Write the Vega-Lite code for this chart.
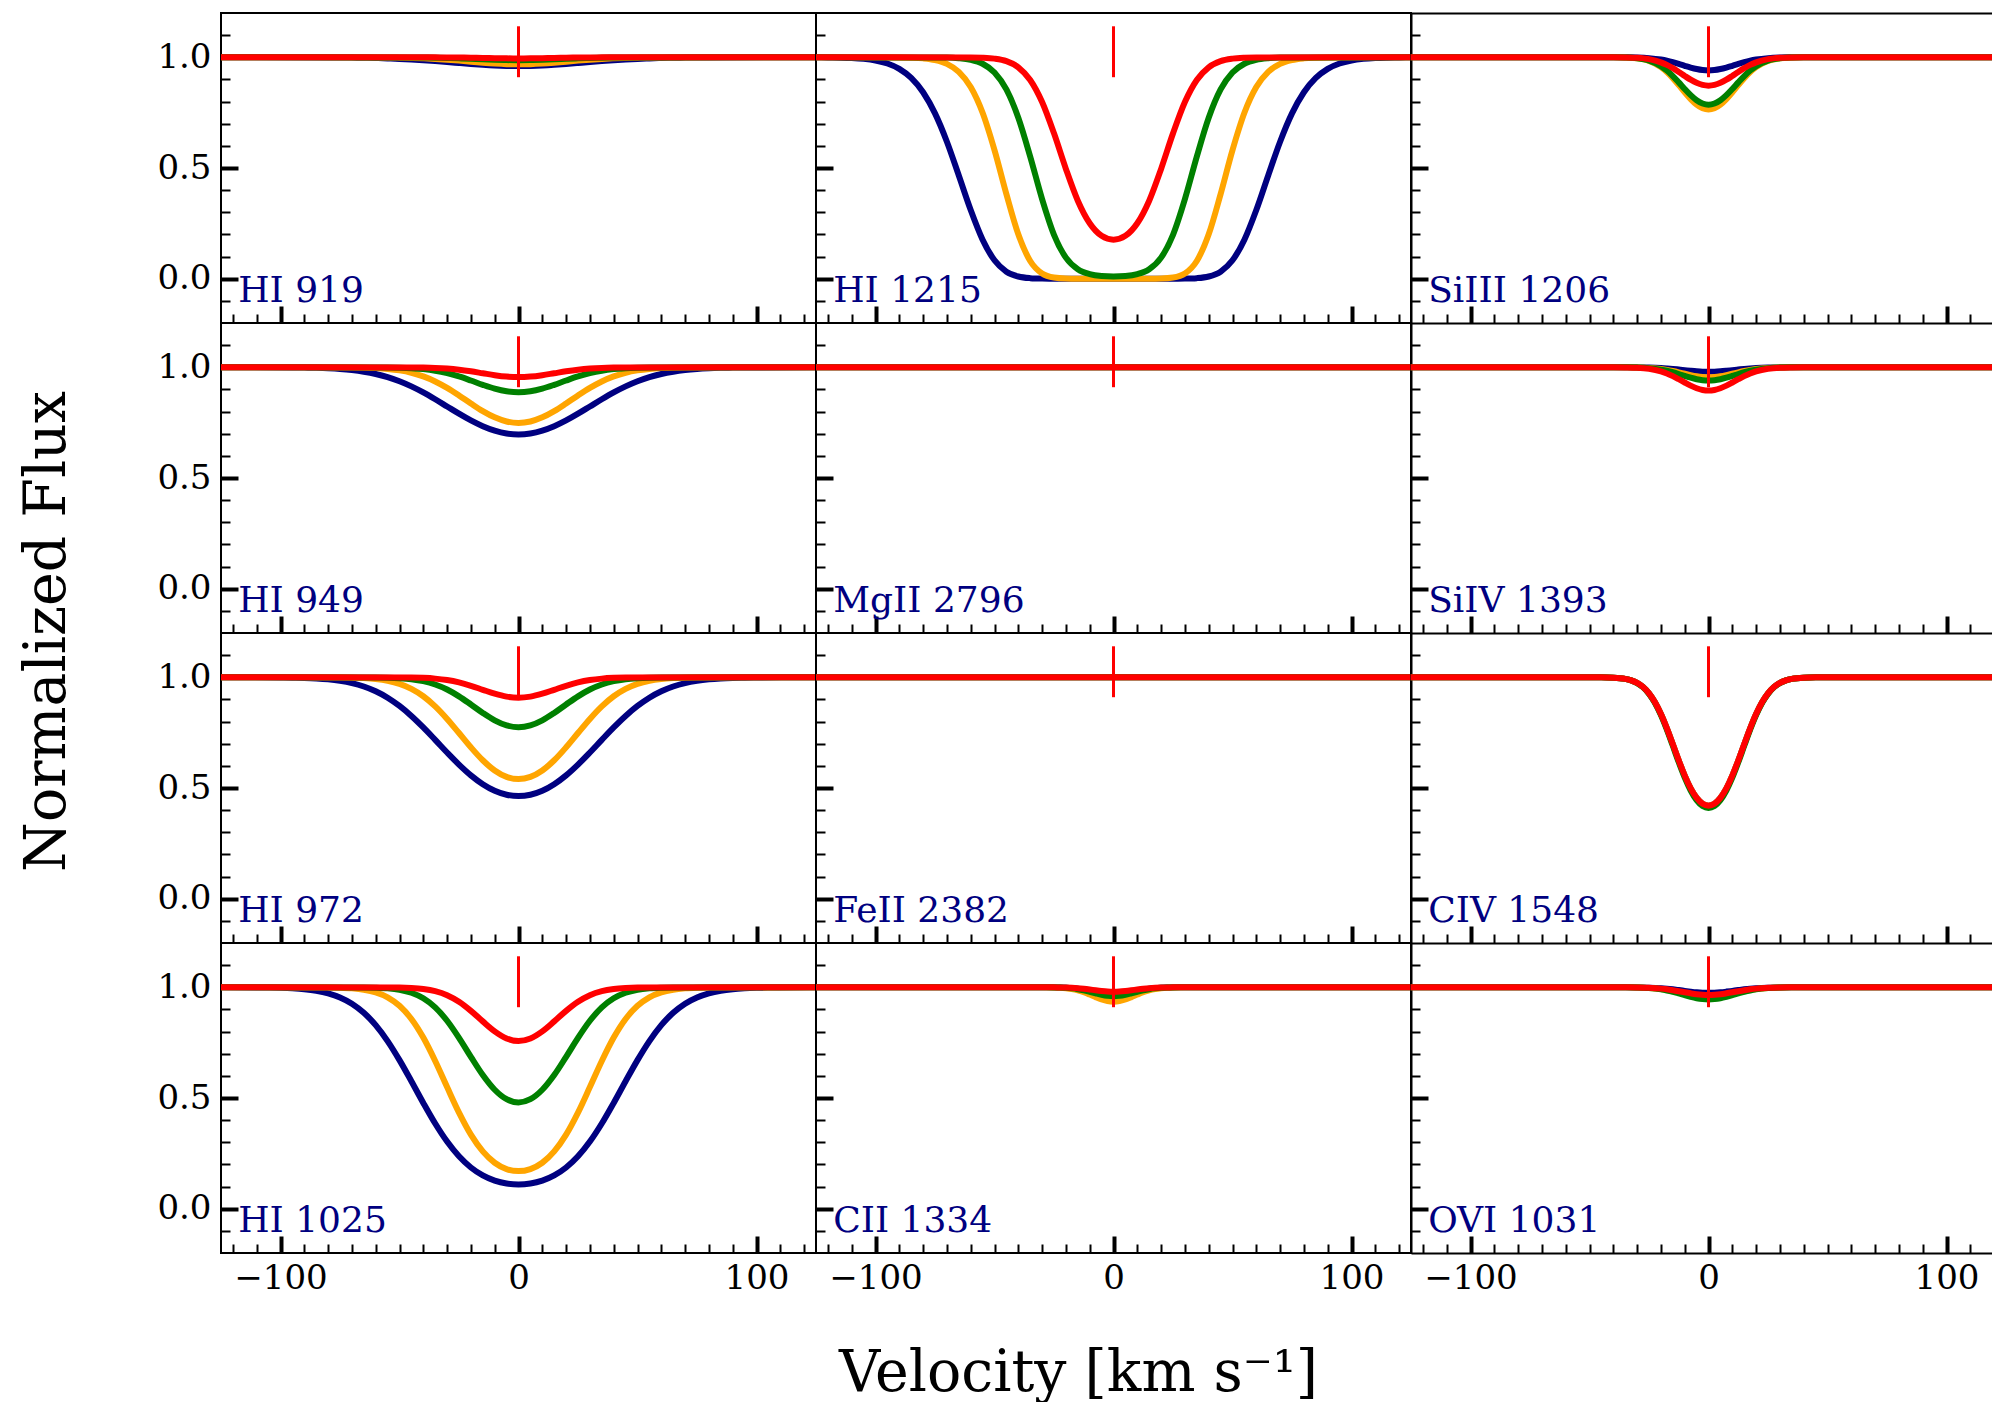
{
"$schema":"https://vega.github.io/schema/vega-lite/v6.json",
"background":"white",
"padding":{"left":17,"top":12,"right":0,"bottom":0},
"config":{
 "view":{"stroke":"black","strokeWidth":2},
 "line":{"strokeWidth":6,"interpolate":"monotone"},
 "axis":{"grid":false,"domain":false,"domainColor":"black","domainWidth":2,"tickColor":"black","labelFont":"DejaVu Serif","labelFontSize":34,"labelColor":"black","titleFont":"DejaVu Serif","titleFontWeight":"normal","titleColor":"black","titleFontSize":57,"zindex":1}
},
"datasets":{
"flat":[{"v":-125,"f":1},{"v":125,"f":1}],
"HI919_n":[{"v":-125,"f":1},{"v":-80,"f":0.9995},{"v":-75,"f":0.9991},{"v":-70,"f":0.9986},{"v":-65,"f":0.9978},{"v":-60,"f":0.9966},{"v":-55,"f":0.9949},{"v":-50,"f":0.9928},{"v":-45,"f":0.99},{"v":-40,"f":0.9866},{"v":-35,"f":0.9827},{"v":-30,"f":0.9785},{"v":-25,"f":0.9741},{"v":-20,"f":0.9698},{"v":-15,"f":0.9661},{"v":-10,"f":0.9631},{"v":-5,"f":0.9612},{"v":0,"f":0.9605},{"v":5,"f":0.9612},{"v":10,"f":0.9631},{"v":15,"f":0.9661},{"v":20,"f":0.9698},{"v":25,"f":0.9741},{"v":30,"f":0.9785},{"v":35,"f":0.9827},{"v":40,"f":0.9866},{"v":45,"f":0.99},{"v":50,"f":0.9928},{"v":55,"f":0.9949},{"v":60,"f":0.9966},{"v":65,"f":0.9978},{"v":70,"f":0.9986},{"v":75,"f":0.9991},{"v":80,"f":0.9995},{"v":125,"f":1}],
"HI919_o":[{"v":-125,"f":1},{"v":-55,"f":0.9992},{"v":-50,"f":0.9984},{"v":-45,"f":0.9972},{"v":-40,"f":0.9953},{"v":-35,"f":0.9927},{"v":-30,"f":0.9892},{"v":-25,"f":0.9849},{"v":-20,"f":0.9803},{"v":-15,"f":0.9757},{"v":-10,"f":0.9718},{"v":-5,"f":0.9691},{"v":0,"f":0.9682},{"v":5,"f":0.9691},{"v":10,"f":0.9718},{"v":15,"f":0.9757},{"v":20,"f":0.9803},{"v":25,"f":0.9849},{"v":30,"f":0.9892},{"v":35,"f":0.9927},{"v":40,"f":0.9953},{"v":45,"f":0.9972},{"v":50,"f":0.9984},{"v":55,"f":0.9992},{"v":125,"f":1}],
"HI919_g":[{"v":-125,"f":1},{"v":-45,"f":0.9995},{"v":-40,"f":0.9991},{"v":-35,"f":0.9983},{"v":-30,"f":0.997},{"v":-25,"f":0.9953},{"v":-20,"f":0.9932},{"v":-15,"f":0.9909},{"v":-10,"f":0.9887},{"v":-5,"f":0.9873},{"v":0,"f":0.9867},{"v":5,"f":0.9873},{"v":10,"f":0.9887},{"v":15,"f":0.9909},{"v":20,"f":0.9932},{"v":25,"f":0.9953},{"v":30,"f":0.997},{"v":35,"f":0.9983},{"v":40,"f":0.9991},{"v":45,"f":0.9995},{"v":125,"f":1}],
"HI919_r":[{"v":-125,"f":1},{"v":-35,"f":0.9997},{"v":-30,"f":0.9993},{"v":-25,"f":0.9988},{"v":-20,"f":0.998},{"v":-15,"f":0.997},{"v":-10,"f":0.996},{"v":-5,"f":0.9952},{"v":0,"f":0.9949},{"v":5,"f":0.9952},{"v":10,"f":0.996},{"v":15,"f":0.997},{"v":20,"f":0.998},{"v":25,"f":0.9988},{"v":30,"f":0.9993},{"v":35,"f":0.9997},{"v":125,"f":1}],
"HI1215_n":[{"v":-125,"f":1},{"v":-120,"f":0.9993},{"v":-115,"f":0.9984},{"v":-110,"f":0.9966},{"v":-105,"f":0.9928},{"v":-100,"f":0.9855},{"v":-95,"f":0.972},{"v":-90,"f":0.9479},{"v":-85,"f":0.9069},{"v":-80,"f":0.842},{"v":-75,"f":0.7466},{"v":-70,"f":0.6187},{"v":-65,"f":0.4662},{"v":-60,"f":0.3103},{"v":-55,"f":0.1763},{"v":-50,"f":0.0831},{"v":-45,"f":0.0319},{"v":-40,"f":0.01},{"v":-35,"f":0.0026},{"v":-30,"f":0.0006},{"v":-25,"f":0.0001},{"v":-20,"f":0},{"v":-10,"f":0},{"v":0,"f":0},{"v":10,"f":0},{"v":20,"f":0},{"v":25,"f":0.0001},{"v":30,"f":0.0006},{"v":35,"f":0.0026},{"v":40,"f":0.01},{"v":45,"f":0.0319},{"v":50,"f":0.0831},{"v":55,"f":0.1763},{"v":60,"f":0.3103},{"v":65,"f":0.4662},{"v":70,"f":0.6187},{"v":75,"f":0.7466},{"v":80,"f":0.842},{"v":85,"f":0.9069},{"v":90,"f":0.9479},{"v":95,"f":0.972},{"v":100,"f":0.9855},{"v":105,"f":0.9928},{"v":110,"f":0.9966},{"v":115,"f":0.9984},{"v":120,"f":0.9993},{"v":125,"f":1}],
"HI1215_o":[{"v":-125,"f":1},{"v":-90,"f":0.9994},{"v":-85,"f":0.9982},{"v":-80,"f":0.9951},{"v":-75,"f":0.9876},{"v":-70,"f":0.9704},{"v":-65,"f":0.9343},{"v":-60,"f":0.8658},{"v":-55,"f":0.7496},{"v":-50,"f":0.581},{"v":-45,"f":0.3821},{"v":-40,"f":0.2005},{"v":-35,"f":0.0801},{"v":-30,"f":0.0238},{"v":-25,"f":0.0055},{"v":-20,"f":0.0011},{"v":-15,"f":0.0002},{"v":-10,"f":0.0001},{"v":0,"f":0},{"v":10,"f":0.0001},{"v":15,"f":0.0002},{"v":20,"f":0.0011},{"v":25,"f":0.0055},{"v":30,"f":0.0238},{"v":35,"f":0.0801},{"v":40,"f":0.2005},{"v":45,"f":0.3821},{"v":50,"f":0.581},{"v":55,"f":0.7496},{"v":60,"f":0.8658},{"v":65,"f":0.9343},{"v":70,"f":0.9704},{"v":75,"f":0.9876},{"v":80,"f":0.9951},{"v":85,"f":0.9982},{"v":90,"f":0.9994},{"v":125,"f":1}],
"HI1215_g":[{"v":-125,"f":1},{"v":-70,"f":0.9987},{"v":-65,"f":0.996},{"v":-60,"f":0.9887},{"v":-55,"f":0.9708},{"v":-50,"f":0.9314},{"v":-45,"f":0.8547},{"v":-40,"f":0.727},{"v":-35,"f":0.5516},{"v":-30,"f":0.3598},{"v":-25,"f":0.1985},{"v":-20,"f":0.0952},{"v":-15,"f":0.0429},{"v":-10,"f":0.0207},{"v":-5,"f":0.0124},{"v":0,"f":0.0103},{"v":5,"f":0.0124},{"v":10,"f":0.0207},{"v":15,"f":0.0429},{"v":20,"f":0.0952},{"v":25,"f":0.1985},{"v":30,"f":0.3598},{"v":35,"f":0.5516},{"v":40,"f":0.727},{"v":45,"f":0.8547},{"v":50,"f":0.9314},{"v":55,"f":0.9708},{"v":60,"f":0.9887},{"v":65,"f":0.996},{"v":70,"f":0.9987},{"v":125,"f":1}],
"HI1215_r":[{"v":-125,"f":1},{"v":-60,"f":0.9995},{"v":-55,"f":0.9982},{"v":-50,"f":0.994},{"v":-45,"f":0.9826},{"v":-40,"f":0.9549},{"v":-35,"f":0.8976},{"v":-30,"f":0.798},{"v":-25,"f":0.6564},{"v":-20,"f":0.496},{"v":-15,"f":0.3524},{"v":-10,"f":0.2504},{"v":-5,"f":0.1937},{"v":0,"f":0.1761},{"v":5,"f":0.1937},{"v":10,"f":0.2504},{"v":15,"f":0.3524},{"v":20,"f":0.496},{"v":25,"f":0.6564},{"v":30,"f":0.798},{"v":35,"f":0.8976},{"v":40,"f":0.9549},{"v":45,"f":0.9826},{"v":50,"f":0.994},{"v":55,"f":0.9982},{"v":60,"f":0.9995},{"v":125,"f":1}],
"SiIII1206_n":[{"v":-125,"f":1},{"v":-40,"f":1},{"v":-35,"f":0.9997},{"v":-30,"f":0.9989},{"v":-25,"f":0.9962},{"v":-20,"f":0.9897},{"v":-17.5,"f":0.9845},{"v":-15,"f":0.9778},{"v":-12.5,"f":0.97},{"v":-10,"f":0.9616},{"v":-7.5,"f":0.9536},{"v":-5,"f":0.9469},{"v":-2.5,"f":0.9424},{"v":0,"f":0.9408},{"v":2.5,"f":0.9424},{"v":5,"f":0.9469},{"v":7.5,"f":0.9536},{"v":10,"f":0.9616},{"v":12.5,"f":0.97},{"v":15,"f":0.9778},{"v":17.5,"f":0.9845},{"v":20,"f":0.9897},{"v":25,"f":0.9962},{"v":30,"f":0.9989},{"v":35,"f":0.9997},{"v":40,"f":1},{"v":125,"f":1}],
"SiIII1206_o":[{"v":-125,"f":1},{"v":-40,"f":1},{"v":-35,"f":0.9988},{"v":-30,"f":0.9951},{"v":-25,"f":0.9834},{"v":-20,"f":0.9555},{"v":-17.5,"f":0.9333},{"v":-15,"f":0.9058},{"v":-12.5,"f":0.8743},{"v":-10,"f":0.8416},{"v":-7.5,"f":0.811},{"v":-5,"f":0.7861},{"v":-2.5,"f":0.7698},{"v":0,"f":0.7641},{"v":2.5,"f":0.7698},{"v":5,"f":0.7861},{"v":7.5,"f":0.811},{"v":10,"f":0.8416},{"v":12.5,"f":0.8743},{"v":15,"f":0.9058},{"v":17.5,"f":0.9333},{"v":20,"f":0.9555},{"v":25,"f":0.9834},{"v":30,"f":0.9951},{"v":35,"f":0.9988},{"v":40,"f":1},{"v":125,"f":1}],
"SiIII1206_g":[{"v":-125,"f":1},{"v":-40,"f":1},{"v":-35,"f":0.999},{"v":-30,"f":0.9956},{"v":-25,"f":0.9851},{"v":-20,"f":0.9601},{"v":-17.5,"f":0.9401},{"v":-15,"f":0.9152},{"v":-12.5,"f":0.8866},{"v":-10,"f":0.8568},{"v":-7.5,"f":0.8289},{"v":-5,"f":0.806},{"v":-2.5,"f":0.7911},{"v":0,"f":0.7859},{"v":2.5,"f":0.7911},{"v":5,"f":0.806},{"v":7.5,"f":0.8289},{"v":10,"f":0.8568},{"v":12.5,"f":0.8866},{"v":15,"f":0.9152},{"v":17.5,"f":0.9401},{"v":20,"f":0.9601},{"v":25,"f":0.9851},{"v":30,"f":0.9956},{"v":35,"f":0.999},{"v":40,"f":1},{"v":125,"f":1}],
"SiIII1206_r":[{"v":-125,"f":1},{"v":-40,"f":1},{"v":-35,"f":0.9994},{"v":-30,"f":0.9975},{"v":-25,"f":0.9915},{"v":-20,"f":0.9771},{"v":-17.5,"f":0.9655},{"v":-15,"f":0.9508},{"v":-12.5,"f":0.9339},{"v":-10,"f":0.9159},{"v":-7.5,"f":0.8988},{"v":-5,"f":0.8846},{"v":-2.5,"f":0.8753},{"v":0,"f":0.872},{"v":2.5,"f":0.8753},{"v":5,"f":0.8846},{"v":7.5,"f":0.8988},{"v":10,"f":0.9159},{"v":12.5,"f":0.9339},{"v":15,"f":0.9508},{"v":17.5,"f":0.9655},{"v":20,"f":0.9771},{"v":25,"f":0.9915},{"v":30,"f":0.9975},{"v":35,"f":0.9994},{"v":40,"f":1},{"v":125,"f":1}],
"HI949_n":[{"v":-125,"f":1},{"v":-95,"f":0.9993},{"v":-90,"f":0.9986},{"v":-85,"f":0.9974},{"v":-80,"f":0.9955},{"v":-75,"f":0.9924},{"v":-70,"f":0.9875},{"v":-65,"f":0.9802},{"v":-60,"f":0.9699},{"v":-55,"f":0.9556},{"v":-50,"f":0.937},{"v":-45,"f":0.9138},{"v":-40,"f":0.8864},{"v":-35,"f":0.8556},{"v":-30,"f":0.823},{"v":-25,"f":0.7904},{"v":-20,"f":0.76},{"v":-15,"f":0.7339},{"v":-10,"f":0.7139},{"v":-5,"f":0.7012},{"v":0,"f":0.697},{"v":5,"f":0.7012},{"v":10,"f":0.7139},{"v":15,"f":0.7339},{"v":20,"f":0.76},{"v":25,"f":0.7904},{"v":30,"f":0.823},{"v":35,"f":0.8556},{"v":40,"f":0.8864},{"v":45,"f":0.9138},{"v":50,"f":0.937},{"v":55,"f":0.9556},{"v":60,"f":0.9699},{"v":65,"f":0.9802},{"v":70,"f":0.9875},{"v":75,"f":0.9924},{"v":80,"f":0.9955},{"v":85,"f":0.9974},{"v":90,"f":0.9986},{"v":95,"f":0.9993},{"v":125,"f":1}],
"HI949_o":[{"v":-125,"f":1},{"v":-70,"f":0.9992},{"v":-65,"f":0.9982},{"v":-60,"f":0.9962},{"v":-55,"f":0.9925},{"v":-50,"f":0.9859},{"v":-45,"f":0.9751},{"v":-40,"f":0.9588},{"v":-35,"f":0.9361},{"v":-30,"f":0.9068},{"v":-25,"f":0.8727},{"v":-20,"f":0.8364},{"v":-15,"f":0.802},{"v":-10,"f":0.7738},{"v":-5,"f":0.7552},{"v":0,"f":0.7488},{"v":5,"f":0.7552},{"v":10,"f":0.7738},{"v":15,"f":0.802},{"v":20,"f":0.8364},{"v":25,"f":0.8727},{"v":30,"f":0.9068},{"v":35,"f":0.9361},{"v":40,"f":0.9588},{"v":45,"f":0.9751},{"v":50,"f":0.9859},{"v":55,"f":0.9925},{"v":60,"f":0.9962},{"v":65,"f":0.9982},{"v":70,"f":0.9992},{"v":125,"f":1}],
"HI949_g":[{"v":-125,"f":1},{"v":-55,"f":0.9992},{"v":-50,"f":0.9981},{"v":-45,"f":0.9959},{"v":-40,"f":0.9917},{"v":-35,"f":0.9846},{"v":-30,"f":0.9736},{"v":-25,"f":0.9586},{"v":-20,"f":0.9403},{"v":-15,"f":0.9209},{"v":-10,"f":0.9036},{"v":-5,"f":0.8915},{"v":0,"f":0.8871},{"v":5,"f":0.8915},{"v":10,"f":0.9036},{"v":15,"f":0.9209},{"v":20,"f":0.9403},{"v":25,"f":0.9586},{"v":30,"f":0.9736},{"v":35,"f":0.9846},{"v":40,"f":0.9917},{"v":45,"f":0.9959},{"v":50,"f":0.9981},{"v":55,"f":0.9992},{"v":125,"f":1}],
"HI949_r":[{"v":-125,"f":1},{"v":-45,"f":0.9995},{"v":-40,"f":0.9988},{"v":-35,"f":0.9972},{"v":-30,"f":0.9941},{"v":-25,"f":0.989},{"v":-20,"f":0.9818},{"v":-15,"f":0.9731},{"v":-10,"f":0.9644},{"v":-5,"f":0.958},{"v":0,"f":0.9556},{"v":5,"f":0.958},{"v":10,"f":0.9644},{"v":15,"f":0.9731},{"v":20,"f":0.9818},{"v":25,"f":0.989},{"v":30,"f":0.9941},{"v":35,"f":0.9972},{"v":40,"f":0.9988},{"v":45,"f":0.9995},{"v":125,"f":1}],
"SiIV1393_n":[{"v":-125,"f":1},{"v":-35,"f":1},{"v":-30,"f":0.9996},{"v":-25,"f":0.9987},{"v":-20,"f":0.9966},{"v":-17.5,"f":0.9948},{"v":-15,"f":0.9926},{"v":-12.5,"f":0.9899},{"v":-10,"f":0.9871},{"v":-7.5,"f":0.9843},{"v":-5,"f":0.9819},{"v":-2.5,"f":0.9804},{"v":0,"f":0.98},{"v":2.5,"f":0.9804},{"v":5,"f":0.9819},{"v":7.5,"f":0.9843},{"v":10,"f":0.9871},{"v":12.5,"f":0.9899},{"v":15,"f":0.9926},{"v":17.5,"f":0.9948},{"v":20,"f":0.9966},{"v":25,"f":0.9987},{"v":30,"f":0.9996},{"v":35,"f":1},{"v":125,"f":1}],
"SiIV1393_o":[{"v":-125,"f":1},{"v":-40,"f":1},{"v":-35,"f":0.9998},{"v":-30,"f":0.9992},{"v":-25,"f":0.9971},{"v":-20,"f":0.9923},{"v":-17.5,"f":0.9883},{"v":-15,"f":0.9832},{"v":-12.5,"f":0.9773},{"v":-10,"f":0.9709},{"v":-7.5,"f":0.9648},{"v":-5,"f":0.9597},{"v":-2.5,"f":0.9563},{"v":0,"f":0.955},{"v":2.5,"f":0.9563},{"v":5,"f":0.9597},{"v":7.5,"f":0.9648},{"v":10,"f":0.9709},{"v":12.5,"f":0.9773},{"v":15,"f":0.9832},{"v":17.5,"f":0.9883},{"v":20,"f":0.9923},{"v":25,"f":0.9971},{"v":30,"f":0.9992},{"v":35,"f":0.9998},{"v":40,"f":1},{"v":125,"f":1}],
"SiIV1393_g":[{"v":-125,"f":1},{"v":-40,"f":1},{"v":-35,"f":0.9997},{"v":-30,"f":0.9989},{"v":-25,"f":0.9962},{"v":-20,"f":0.9896},{"v":-17.5,"f":0.9843},{"v":-15,"f":0.9775},{"v":-12.5,"f":0.9696},{"v":-10,"f":0.9611},{"v":-7.5,"f":0.9529},{"v":-5,"f":0.9461},{"v":-2.5,"f":0.9416},{"v":0,"f":0.94},{"v":2.5,"f":0.9416},{"v":5,"f":0.9461},{"v":7.5,"f":0.9529},{"v":10,"f":0.9611},{"v":12.5,"f":0.9696},{"v":15,"f":0.9775},{"v":17.5,"f":0.9843},{"v":20,"f":0.9896},{"v":25,"f":0.9962},{"v":30,"f":0.9989},{"v":35,"f":0.9997},{"v":40,"f":1},{"v":125,"f":1}],
"SiIV1393_r":[{"v":-125,"f":1},{"v":-40,"f":1},{"v":-35,"f":0.9995},{"v":-30,"f":0.998},{"v":-25,"f":0.9931},{"v":-20,"f":0.9814},{"v":-17.5,"f":0.9719},{"v":-15,"f":0.96},{"v":-12.5,"f":0.9461},{"v":-10,"f":0.9313},{"v":-7.5,"f":0.9172},{"v":-5,"f":0.9055},{"v":-2.5,"f":0.8977},{"v":0,"f":0.8949},{"v":2.5,"f":0.8977},{"v":5,"f":0.9055},{"v":7.5,"f":0.9172},{"v":10,"f":0.9313},{"v":12.5,"f":0.9461},{"v":15,"f":0.96},{"v":17.5,"f":0.9719},{"v":20,"f":0.9814},{"v":25,"f":0.9931},{"v":30,"f":0.998},{"v":35,"f":0.9995},{"v":40,"f":1},{"v":125,"f":1}],
"HI972_n":[{"v":-125,"f":1},{"v":-100,"f":0.9992},{"v":-95,"f":0.9984},{"v":-90,"f":0.997},{"v":-85,"f":0.9946},{"v":-80,"f":0.9905},{"v":-75,"f":0.9838},{"v":-70,"f":0.9736},{"v":-65,"f":0.9584},{"v":-60,"f":0.9369},{"v":-55,"f":0.9078},{"v":-50,"f":0.8705},{"v":-45,"f":0.8253},{"v":-40,"f":0.7735},{"v":-35,"f":0.7174},{"v":-30,"f":0.6604},{"v":-25,"f":0.6059},{"v":-20,"f":0.5573},{"v":-15,"f":0.5173},{"v":-10,"f":0.4877},{"v":-5,"f":0.4696},{"v":0,"f":0.4635},{"v":5,"f":0.4696},{"v":10,"f":0.4877},{"v":15,"f":0.5173},{"v":20,"f":0.5573},{"v":25,"f":0.6059},{"v":30,"f":0.6604},{"v":35,"f":0.7174},{"v":40,"f":0.7735},{"v":45,"f":0.8253},{"v":50,"f":0.8705},{"v":55,"f":0.9078},{"v":60,"f":0.9369},{"v":65,"f":0.9584},{"v":70,"f":0.9736},{"v":75,"f":0.9838},{"v":80,"f":0.9905},{"v":85,"f":0.9946},{"v":90,"f":0.997},{"v":95,"f":0.9984},{"v":100,"f":0.9992},{"v":125,"f":1}],
"HI972_o":[{"v":-125,"f":1},{"v":-75,"f":0.9993},{"v":-70,"f":0.9983},{"v":-65,"f":0.9962},{"v":-60,"f":0.992},{"v":-55,"f":0.9841},{"v":-50,"f":0.9702},{"v":-45,"f":0.9478},{"v":-40,"f":0.9144},{"v":-35,"f":0.8688},{"v":-30,"f":0.8121},{"v":-25,"f":0.7483},{"v":-20,"f":0.6837},{"v":-15,"f":0.6252},{"v":-10,"f":0.5793},{"v":-5,"f":0.5501},{"v":0,"f":0.5401},{"v":5,"f":0.5501},{"v":10,"f":0.5793},{"v":15,"f":0.6252},{"v":20,"f":0.6837},{"v":25,"f":0.7483},{"v":30,"f":0.8121},{"v":35,"f":0.8688},{"v":40,"f":0.9144},{"v":45,"f":0.9478},{"v":50,"f":0.9702},{"v":55,"f":0.9841},{"v":60,"f":0.992},{"v":65,"f":0.9962},{"v":70,"f":0.9983},{"v":75,"f":0.9993},{"v":125,"f":1}],
"HI972_g":[{"v":-125,"f":1},{"v":-60,"f":0.9994},{"v":-55,"f":0.9984},{"v":-50,"f":0.996},{"v":-45,"f":0.9913},{"v":-40,"f":0.9824},{"v":-35,"f":0.9674},{"v":-30,"f":0.9447},{"v":-25,"f":0.9139},{"v":-20,"f":0.8772},{"v":-15,"f":0.8391},{"v":-10,"f":0.8058},{"v":-5,"f":0.7829},{"v":0,"f":0.7748},{"v":5,"f":0.7829},{"v":10,"f":0.8058},{"v":15,"f":0.8391},{"v":20,"f":0.8772},{"v":25,"f":0.9139},{"v":30,"f":0.9447},{"v":35,"f":0.9674},{"v":40,"f":0.9824},{"v":45,"f":0.9913},{"v":50,"f":0.996},{"v":55,"f":0.9984},{"v":60,"f":0.9994},{"v":125,"f":1}],
"HI972_r":[{"v":-125,"f":1},{"v":-45,"f":0.999},{"v":-40,"f":0.9974},{"v":-35,"f":0.994},{"v":-30,"f":0.9875},{"v":-25,"f":0.9768},{"v":-20,"f":0.9617},{"v":-15,"f":0.9435},{"v":-10,"f":0.9257},{"v":-5,"f":0.9126},{"v":0,"f":0.9077},{"v":5,"f":0.9126},{"v":10,"f":0.9257},{"v":15,"f":0.9435},{"v":20,"f":0.9617},{"v":25,"f":0.9768},{"v":30,"f":0.9875},{"v":35,"f":0.994},{"v":40,"f":0.9974},{"v":45,"f":0.999},{"v":125,"f":1}],
"CIV1548_r":[{"v":-125,"f":1},{"v":-45,"f":0.9997},{"v":-40,"f":0.9983},{"v":-35,"f":0.9928},{"v":-32.5,"f":0.9861},{"v":-30,"f":0.9745},{"v":-27.5,"f":0.9558},{"v":-25,"f":0.9273},{"v":-22.5,"f":0.8868},{"v":-20,"f":0.8337},{"v":-17.5,"f":0.7692},{"v":-15,"f":0.6974},{"v":-12.5,"f":0.6241},{"v":-10,"f":0.5558},{"v":-7.5,"f":0.4982},{"v":-5,"f":0.4551},{"v":-2.5,"f":0.4287},{"v":0,"f":0.4198},{"v":2.5,"f":0.4287},{"v":5,"f":0.4551},{"v":7.5,"f":0.4982},{"v":10,"f":0.5558},{"v":12.5,"f":0.6241},{"v":15,"f":0.6974},{"v":17.5,"f":0.7692},{"v":20,"f":0.8337},{"v":22.5,"f":0.8868},{"v":25,"f":0.9273},{"v":27.5,"f":0.9558},{"v":30,"f":0.9745},{"v":32.5,"f":0.9861},{"v":35,"f":0.9928},{"v":40,"f":0.9983},{"v":45,"f":0.9997},{"v":125,"f":1}],
"CIV1548_g":[{"v":-125,"f":1},{"v":-45,"f":0.9997},{"v":-40,"f":0.9983},{"v":-35,"f":0.9926},{"v":-32.5,"f":0.9857},{"v":-30,"f":0.9738},{"v":-27.5,"f":0.9546},{"v":-25,"f":0.9253},{"v":-22.5,"f":0.8838},{"v":-20,"f":0.8294},{"v":-17.5,"f":0.7636},{"v":-15,"f":0.6904},{"v":-12.5,"f":0.616},{"v":-10,"f":0.5468},{"v":-7.5,"f":0.4887},{"v":-5,"f":0.4453},{"v":-2.5,"f":0.4188},{"v":0,"f":0.4098},{"v":2.5,"f":0.4188},{"v":5,"f":0.4453},{"v":7.5,"f":0.4887},{"v":10,"f":0.5468},{"v":12.5,"f":0.616},{"v":15,"f":0.6904},{"v":17.5,"f":0.7636},{"v":20,"f":0.8294},{"v":22.5,"f":0.8838},{"v":25,"f":0.9253},{"v":27.5,"f":0.9546},{"v":30,"f":0.9738},{"v":32.5,"f":0.9857},{"v":35,"f":0.9926},{"v":40,"f":0.9983},{"v":45,"f":0.9997},{"v":125,"f":1}],
"HI1025_n":[{"v":-125,"f":1},{"v":-110,"f":0.9994},{"v":-105,"f":0.9988},{"v":-100,"f":0.9977},{"v":-95,"f":0.9955},{"v":-90,"f":0.9915},{"v":-85,"f":0.9845},{"v":-80,"f":0.9728},{"v":-75,"f":0.9542},{"v":-70,"f":0.9259},{"v":-65,"f":0.8849},{"v":-60,"f":0.829},{"v":-55,"f":0.7571},{"v":-50,"f":0.6711},{"v":-45,"f":0.5757},{"v":-40,"f":0.4777},{"v":-35,"f":0.3847},{"v":-30,"f":0.3031},{"v":-25,"f":0.2366},{"v":-20,"f":0.186},{"v":-15,"f":0.1502},{"v":-10,"f":0.1267},{"v":-5,"f":0.1137},{"v":0,"f":0.1095},{"v":5,"f":0.1137},{"v":10,"f":0.1267},{"v":15,"f":0.1502},{"v":20,"f":0.186},{"v":25,"f":0.2366},{"v":30,"f":0.3031},{"v":35,"f":0.3847},{"v":40,"f":0.4777},{"v":45,"f":0.5757},{"v":50,"f":0.6711},{"v":55,"f":0.7571},{"v":60,"f":0.829},{"v":65,"f":0.8849},{"v":70,"f":0.9259},{"v":75,"f":0.9542},{"v":80,"f":0.9728},{"v":85,"f":0.9845},{"v":90,"f":0.9915},{"v":95,"f":0.9955},{"v":100,"f":0.9977},{"v":105,"f":0.9988},{"v":110,"f":0.9994},{"v":125,"f":1}],
"HI1025_o":[{"v":-125,"f":1},{"v":-80,"f":0.9992},{"v":-75,"f":0.998},{"v":-70,"f":0.9952},{"v":-65,"f":0.9892},{"v":-60,"f":0.9772},{"v":-55,"f":0.9549},{"v":-50,"f":0.9166},{"v":-45,"f":0.857},{"v":-40,"f":0.7729},{"v":-35,"f":0.6671},{"v":-30,"f":0.5493},{"v":-25,"f":0.434},{"v":-20,"f":0.3346},{"v":-15,"f":0.2588},{"v":-10,"f":0.2077},{"v":-5,"f":0.179},{"v":0,"f":0.1698},{"v":5,"f":0.179},{"v":10,"f":0.2077},{"v":15,"f":0.2588},{"v":20,"f":0.3346},{"v":25,"f":0.434},{"v":30,"f":0.5493},{"v":35,"f":0.6671},{"v":40,"f":0.7729},{"v":45,"f":0.857},{"v":50,"f":0.9166},{"v":55,"f":0.9549},{"v":60,"f":0.9772},{"v":65,"f":0.9892},{"v":70,"f":0.9952},{"v":75,"f":0.998},{"v":80,"f":0.9992},{"v":125,"f":1}],
"HI1025_g":[{"v":-125,"f":1},{"v":-65,"f":0.9994},{"v":-60,"f":0.9982},{"v":-55,"f":0.9953},{"v":-50,"f":0.9887},{"v":-45,"f":0.9752},{"v":-40,"f":0.9502},{"v":-35,"f":0.9091},{"v":-30,"f":0.8489},{"v":-25,"f":0.7717},{"v":-20,"f":0.6859},{"v":-15,"f":0.6037},{"v":-10,"f":0.5373},{"v":-5,"f":0.4946},{"v":0,"f":0.48},{"v":5,"f":0.4946},{"v":10,"f":0.5373},{"v":15,"f":0.6037},{"v":20,"f":0.6859},{"v":25,"f":0.7717},{"v":30,"f":0.8489},{"v":35,"f":0.9091},{"v":40,"f":0.9502},{"v":45,"f":0.9752},{"v":50,"f":0.9887},{"v":55,"f":0.9953},{"v":60,"f":0.9982},{"v":65,"f":0.9994},{"v":125,"f":1}],
"HI1025_r":[{"v":-125,"f":1},{"v":-50,"f":0.999},{"v":-45,"f":0.9972},{"v":-40,"f":0.9926},{"v":-35,"f":0.9828},{"v":-30,"f":0.9645},{"v":-25,"f":0.9347},{"v":-20,"f":0.8937},{"v":-15,"f":0.846},{"v":-10,"f":0.801},{"v":-5,"f":0.7686},{"v":0,"f":0.757},{"v":5,"f":0.7686},{"v":10,"f":0.801},{"v":15,"f":0.846},{"v":20,"f":0.8937},{"v":25,"f":0.9347},{"v":30,"f":0.9645},{"v":35,"f":0.9828},{"v":40,"f":0.9926},{"v":45,"f":0.9972},{"v":50,"f":0.999},{"v":125,"f":1}],
"CII1334_n":[{"v":-125,"f":1},{"v":-30,"f":1},{"v":-25,"f":0.9996},{"v":-22.5,"f":0.9991},{"v":-20,"f":0.9981},{"v":-17.5,"f":0.9964},{"v":-15,"f":0.9936},{"v":-12.5,"f":0.9898},{"v":-10,"f":0.9849},{"v":-7.5,"f":0.9796},{"v":-5,"f":0.9747},{"v":-2.5,"f":0.9712},{"v":0,"f":0.97},{"v":2.5,"f":0.9712},{"v":5,"f":0.9747},{"v":7.5,"f":0.9796},{"v":10,"f":0.9849},{"v":12.5,"f":0.9898},{"v":15,"f":0.9936},{"v":17.5,"f":0.9964},{"v":20,"f":0.9981},{"v":22.5,"f":0.9991},{"v":25,"f":0.9996},{"v":30,"f":1},{"v":125,"f":1}],
"CII1334_o":[{"v":-125,"f":1},{"v":-30,"f":1},{"v":-25,"f":0.9991},{"v":-22.5,"f":0.998},{"v":-20,"f":0.9958},{"v":-17.5,"f":0.992},{"v":-15,"f":0.986},{"v":-12.5,"f":0.9776},{"v":-10,"f":0.967},{"v":-7.5,"f":0.9555},{"v":-5,"f":0.9451},{"v":-2.5,"f":0.9377},{"v":0,"f":0.935},{"v":2.5,"f":0.9377},{"v":5,"f":0.9451},{"v":7.5,"f":0.9555},{"v":10,"f":0.967},{"v":12.5,"f":0.9776},{"v":15,"f":0.986},{"v":17.5,"f":0.992},{"v":20,"f":0.9958},{"v":22.5,"f":0.998},{"v":25,"f":0.9991},{"v":30,"f":1},{"v":125,"f":1}],
"CII1334_g":[{"v":-125,"f":1},{"v":-30,"f":1},{"v":-25,"f":0.9995},{"v":-22.5,"f":0.9988},{"v":-20,"f":0.9975},{"v":-17.5,"f":0.9952},{"v":-15,"f":0.9915},{"v":-12.5,"f":0.9863},{"v":-10,"f":0.9798},{"v":-7.5,"f":0.9728},{"v":-5,"f":0.9663},{"v":-2.5,"f":0.9617},{"v":0,"f":0.96},{"v":2.5,"f":0.9617},{"v":5,"f":0.9663},{"v":7.5,"f":0.9728},{"v":10,"f":0.9798},{"v":12.5,"f":0.9863},{"v":15,"f":0.9915},{"v":17.5,"f":0.9952},{"v":20,"f":0.9975},{"v":22.5,"f":0.9988},{"v":25,"f":0.9995},{"v":30,"f":1},{"v":125,"f":1}],
"CII1334_r":[{"v":-125,"f":1},{"v":-30,"f":1},{"v":-25,"f":0.9997},{"v":-22.5,"f":0.9994},{"v":-20,"f":0.9987},{"v":-17.5,"f":0.9976},{"v":-15,"f":0.9958},{"v":-12.5,"f":0.9932},{"v":-10,"f":0.99},{"v":-7.5,"f":0.9864},{"v":-5,"f":0.9832},{"v":-2.5,"f":0.9808},{"v":0,"f":0.98},{"v":2.5,"f":0.9808},{"v":5,"f":0.9832},{"v":7.5,"f":0.9864},{"v":10,"f":0.99},{"v":12.5,"f":0.9932},{"v":15,"f":0.9958},{"v":17.5,"f":0.9976},{"v":20,"f":0.9987},{"v":22.5,"f":0.9994},{"v":25,"f":0.9997},{"v":30,"f":1},{"v":125,"f":1}],
"OVI1031_n":[{"v":-125,"f":1},{"v":-35,"f":1},{"v":-30,"f":0.9995},{"v":-25,"f":0.9984},{"v":-20,"f":0.9957},{"v":-17.5,"f":0.9935},{"v":-15,"f":0.9907},{"v":-12.5,"f":0.9874},{"v":-10,"f":0.9839},{"v":-7.5,"f":0.9805},{"v":-5,"f":0.9776},{"v":-2.5,"f":0.9757},{"v":0,"f":0.975},{"v":2.5,"f":0.9757},{"v":5,"f":0.9776},{"v":7.5,"f":0.9805},{"v":10,"f":0.9839},{"v":12.5,"f":0.9874},{"v":15,"f":0.9907},{"v":17.5,"f":0.9935},{"v":20,"f":0.9957},{"v":25,"f":0.9984},{"v":30,"f":0.9995},{"v":35,"f":1},{"v":125,"f":1}],
"OVI1031_o":[{"v":-125,"f":1},{"v":-40,"f":1},{"v":-35,"f":0.9998},{"v":-30,"f":0.9992},{"v":-25,"f":0.9971},{"v":-20,"f":0.9923},{"v":-17.5,"f":0.9883},{"v":-15,"f":0.9832},{"v":-12.5,"f":0.9773},{"v":-10,"f":0.9709},{"v":-7.5,"f":0.9648},{"v":-5,"f":0.9597},{"v":-2.5,"f":0.9563},{"v":0,"f":0.955},{"v":2.5,"f":0.9563},{"v":5,"f":0.9597},{"v":7.5,"f":0.9648},{"v":10,"f":0.9709},{"v":12.5,"f":0.9773},{"v":15,"f":0.9832},{"v":17.5,"f":0.9883},{"v":20,"f":0.9923},{"v":25,"f":0.9971},{"v":30,"f":0.9992},{"v":35,"f":0.9998},{"v":40,"f":1},{"v":125,"f":1}],
"OVI1031_g":[{"v":-125,"f":1},{"v":-40,"f":1},{"v":-35,"f":0.9998},{"v":-30,"f":0.999},{"v":-25,"f":0.9965},{"v":-20,"f":0.9905},{"v":-17.5,"f":0.9856},{"v":-15,"f":0.9794},{"v":-12.5,"f":0.9721},{"v":-10,"f":0.9644},{"v":-7.5,"f":0.9569},{"v":-5,"f":0.9506},{"v":-2.5,"f":0.9465},{"v":0,"f":0.945},{"v":2.5,"f":0.9465},{"v":5,"f":0.9506},{"v":7.5,"f":0.9569},{"v":10,"f":0.9644},{"v":12.5,"f":0.9721},{"v":15,"f":0.9794},{"v":17.5,"f":0.9856},{"v":20,"f":0.9905},{"v":25,"f":0.9965},{"v":30,"f":0.999},{"v":35,"f":0.9998},{"v":40,"f":1},{"v":125,"f":1}],
"OVI1031_r":[{"v":-125,"f":1},{"v":-40,"f":1},{"v":-35,"f":0.9998},{"v":-30,"f":0.9993},{"v":-25,"f":0.9978},{"v":-20,"f":0.994},{"v":-17.5,"f":0.9909},{"v":-15,"f":0.987},{"v":-12.5,"f":0.9824},{"v":-10,"f":0.9774},{"v":-7.5,"f":0.9727},{"v":-5,"f":0.9686},{"v":-2.5,"f":0.966},{"v":0,"f":0.965},{"v":2.5,"f":0.966},{"v":5,"f":0.9686},{"v":7.5,"f":0.9727},{"v":10,"f":0.9774},{"v":12.5,"f":0.9824},{"v":15,"f":0.987},{"v":17.5,"f":0.9909},{"v":20,"f":0.994},{"v":25,"f":0.9978},{"v":30,"f":0.9993},{"v":35,"f":0.9998},{"v":40,"f":1},{"v":125,"f":1}]
},
"columns":3,
"spacing":0,
"bounds":"flush",
"concat":[
{"width":595,"height":310,"resolve":{"axis":{"x":"independent","y":"independent"}},"layer":[
 {"data":{"name":"HI919_n"},"mark":{"type":"line","color":"#000080","clip":true},"encoding":{"x":{"field":"v","type":"quantitative","scale":{"domain":[-125,125],"nice":false},"axis":{"orient":"bottom","values":[-100,0,100],"labels":false,"tickSize":-17,"tickWidth":4,"title":null}},"y":{"field":"f","type":"quantitative","scale":{"domain":[-0.2,1.2],"nice":false,"zero":false},"axis":{"orient":"left","values":[0,0.5,1],"labels":false,"tickSize":-17,"tickWidth":4,"title":null}}}},
 {"data":{"name":"HI919_o"},"mark":{"type":"line","color":"#FFA500","clip":true},"encoding":{"x":{"field":"v","type":"quantitative","axis":{"orient":"bottom","values":[-120,-110,-90,-80,-70,-60,-50,-40,-30,-20,-10,10,20,30,40,50,60,70,80,90,110,120],"labels":false,"tickSize":-9,"tickWidth":2,"title":null}},"y":{"field":"f","type":"quantitative","axis":{"orient":"left","values":[-0.1,0.1,0.2,0.3,0.4,0.6,0.7,0.8,0.9,1.1],"labels":false,"tickSize":-9,"tickWidth":2,"title":null}}}},
 {"data":{"name":"HI919_g"},"mark":{"type":"line","color":"#008000","clip":true},"encoding":{"x":{"field":"v","type":"quantitative","axis":null},"y":{"field":"f","type":"quantitative","axis":{"orient":"left","values":[0,0.5,1],"format":".1f","ticks":false,"labelPadding":10,"title":null}}}},
 {"data":{"name":"HI919_r"},"mark":{"type":"line","color":"#FF0000","clip":true},"encoding":{"x":{"field":"v","type":"quantitative","axis":null},"y":{"field":"f","type":"quantitative","axis":null}}},
 {"data":{"values":[{"v":0}]},"mark":{"type":"rule","color":"#FF0000","strokeWidth":3},"encoding":{"x":{"field":"v","type":"quantitative","axis":null},"y":{"datum":0.91,"type":"quantitative","axis":null},"y2":{"datum":1.14}}},
 {"data":{"values":[{"name":"HI 919"}]},"mark":{"type":"text","align":"left","baseline":"alphabetic","font":"DejaVu Serif","fontSize":36,"color":"#000080"},"encoding":{"x":{"datum":-117.8,"type":"quantitative","axis":null},"y":{"datum":-0.104,"type":"quantitative","axis":null},"text":{"field":"name"}}}
]},
{"width":595,"height":310,"resolve":{"axis":{"x":"independent","y":"independent"}},"layer":[
 {"data":{"name":"HI1215_n"},"mark":{"type":"line","color":"#000080","clip":true},"encoding":{"x":{"field":"v","type":"quantitative","scale":{"domain":[-125,125],"nice":false},"axis":{"orient":"bottom","values":[-100,0,100],"labels":false,"tickSize":-17,"tickWidth":4,"title":null}},"y":{"field":"f","type":"quantitative","scale":{"domain":[-0.2,1.2],"nice":false,"zero":false},"axis":{"orient":"left","values":[0,0.5,1],"labels":false,"tickSize":-17,"tickWidth":4,"title":null}}}},
 {"data":{"name":"HI1215_o"},"mark":{"type":"line","color":"#FFA500","clip":true},"encoding":{"x":{"field":"v","type":"quantitative","axis":{"orient":"bottom","values":[-120,-110,-90,-80,-70,-60,-50,-40,-30,-20,-10,10,20,30,40,50,60,70,80,90,110,120],"labels":false,"tickSize":-9,"tickWidth":2,"title":null}},"y":{"field":"f","type":"quantitative","axis":{"orient":"left","values":[-0.1,0.1,0.2,0.3,0.4,0.6,0.7,0.8,0.9,1.1],"labels":false,"tickSize":-9,"tickWidth":2,"title":null}}}},
 {"data":{"name":"HI1215_g"},"mark":{"type":"line","color":"#008000","clip":true},"encoding":{"x":{"field":"v","type":"quantitative","axis":null},"y":{"field":"f","type":"quantitative","axis":null}}},
 {"data":{"name":"HI1215_r"},"mark":{"type":"line","color":"#FF0000","clip":true},"encoding":{"x":{"field":"v","type":"quantitative","axis":null},"y":{"field":"f","type":"quantitative","axis":null}}},
 {"data":{"values":[{"v":0}]},"mark":{"type":"rule","color":"#FF0000","strokeWidth":3},"encoding":{"x":{"field":"v","type":"quantitative","axis":null},"y":{"datum":0.91,"type":"quantitative","axis":null},"y2":{"datum":1.14}}},
 {"data":{"values":[{"name":"HI 1215"}]},"mark":{"type":"text","align":"left","baseline":"alphabetic","font":"DejaVu Serif","fontSize":36,"color":"#000080"},"encoding":{"x":{"datum":-117.8,"type":"quantitative","axis":null},"y":{"datum":-0.104,"type":"quantitative","axis":null},"text":{"field":"name"}}}
]},
{"width":581,"height":310,"view":{"stroke":null},"resolve":{"axis":{"x":"independent","y":"independent"}},"layer":[
 {"data":{"name":"SiIII1206_n"},"mark":{"type":"line","color":"#000080","clip":true},"encoding":{"x":{"field":"v","type":"quantitative","scale":{"domain":[-125,119.1],"nice":false},"axis":{"orient":"bottom","values":[-100,0,100],"labels":false,"domain":true,"tickSize":-17,"tickWidth":4,"title":null}},"y":{"field":"f","type":"quantitative","scale":{"domain":[-0.2,1.2],"nice":false,"zero":false},"axis":{"orient":"left","values":[0,0.5,1],"labels":false,"domain":true,"tickSize":-17,"tickWidth":4,"title":null}}}},
 {"data":{"name":"SiIII1206_o"},"mark":{"type":"line","color":"#FFA500","clip":true},"encoding":{"x":{"field":"v","type":"quantitative","axis":{"orient":"bottom","values":[-120,-110,-90,-80,-70,-60,-50,-40,-30,-20,-10,10,20,30,40,50,60,70,80,90,110],"labels":false,"tickSize":-9,"tickWidth":2,"title":null}},"y":{"field":"f","type":"quantitative","axis":{"orient":"left","values":[-0.1,0.1,0.2,0.3,0.4,0.6,0.7,0.8,0.9,1.1],"labels":false,"tickSize":-9,"tickWidth":2,"title":null}}}},
 {"data":{"name":"SiIII1206_g"},"mark":{"type":"line","color":"#008000","clip":true},"encoding":{"x":{"field":"v","type":"quantitative","axis":{"orient":"top","labels":false,"ticks":false,"domain":true,"title":null}},"y":{"field":"f","type":"quantitative","axis":null}}},
 {"data":{"name":"SiIII1206_r"},"mark":{"type":"line","color":"#FF0000","clip":true},"encoding":{"x":{"field":"v","type":"quantitative","axis":null},"y":{"field":"f","type":"quantitative","axis":null}}},
 {"data":{"values":[{"v":0}]},"mark":{"type":"rule","color":"#FF0000","strokeWidth":3},"encoding":{"x":{"field":"v","type":"quantitative","axis":null},"y":{"datum":0.91,"type":"quantitative","axis":null},"y2":{"datum":1.14}}},
 {"data":{"values":[{"name":"SiIII 1206"}]},"mark":{"type":"text","align":"left","baseline":"alphabetic","font":"DejaVu Serif","fontSize":36,"color":"#000080"},"encoding":{"x":{"datum":-117.8,"type":"quantitative","axis":null},"y":{"datum":-0.104,"type":"quantitative","axis":null},"text":{"field":"name"}}}
]},
{"width":595,"height":310,"resolve":{"axis":{"x":"independent","y":"independent"}},"layer":[
 {"data":{"name":"HI949_n"},"mark":{"type":"line","color":"#000080","clip":true},"encoding":{"x":{"field":"v","type":"quantitative","scale":{"domain":[-125,125],"nice":false},"axis":{"orient":"bottom","values":[-100,0,100],"labels":false,"tickSize":-17,"tickWidth":4,"title":null}},"y":{"field":"f","type":"quantitative","scale":{"domain":[-0.2,1.2],"nice":false,"zero":false},"axis":{"orient":"left","values":[0,0.5,1],"labels":false,"tickSize":-17,"tickWidth":4,"title":null}}}},
 {"data":{"name":"HI949_o"},"mark":{"type":"line","color":"#FFA500","clip":true},"encoding":{"x":{"field":"v","type":"quantitative","axis":{"orient":"bottom","values":[-120,-110,-90,-80,-70,-60,-50,-40,-30,-20,-10,10,20,30,40,50,60,70,80,90,110,120],"labels":false,"tickSize":-9,"tickWidth":2,"title":null}},"y":{"field":"f","type":"quantitative","axis":{"orient":"left","values":[-0.1,0.1,0.2,0.3,0.4,0.6,0.7,0.8,0.9,1.1],"labels":false,"tickSize":-9,"tickWidth":2,"title":null}}}},
 {"data":{"name":"HI949_g"},"mark":{"type":"line","color":"#008000","clip":true},"encoding":{"x":{"field":"v","type":"quantitative","axis":null},"y":{"field":"f","type":"quantitative","axis":{"orient":"left","values":[0,0.5,1],"format":".1f","ticks":false,"labelPadding":10,"title":"Normalized Flux","titleX":-157,"titleY":308,"titleAlign":"center","titleBaseline":"alphabetic","titleAngle":270}}}},
 {"data":{"name":"HI949_r"},"mark":{"type":"line","color":"#FF0000","clip":true},"encoding":{"x":{"field":"v","type":"quantitative","axis":null},"y":{"field":"f","type":"quantitative","axis":null}}},
 {"data":{"values":[{"v":0}]},"mark":{"type":"rule","color":"#FF0000","strokeWidth":3},"encoding":{"x":{"field":"v","type":"quantitative","axis":null},"y":{"datum":0.91,"type":"quantitative","axis":null},"y2":{"datum":1.14}}},
 {"data":{"values":[{"name":"HI 949"}]},"mark":{"type":"text","align":"left","baseline":"alphabetic","font":"DejaVu Serif","fontSize":36,"color":"#000080"},"encoding":{"x":{"datum":-117.8,"type":"quantitative","axis":null},"y":{"datum":-0.104,"type":"quantitative","axis":null},"text":{"field":"name"}}}
]},
{"width":595,"height":310,"resolve":{"axis":{"x":"independent","y":"independent"}},"layer":[
 {"data":{"name":"flat"},"mark":{"type":"line","color":"#000080","clip":true},"encoding":{"x":{"field":"v","type":"quantitative","scale":{"domain":[-125,125],"nice":false},"axis":{"orient":"bottom","values":[-100,0,100],"labels":false,"tickSize":-17,"tickWidth":4,"title":null}},"y":{"field":"f","type":"quantitative","scale":{"domain":[-0.2,1.2],"nice":false,"zero":false},"axis":{"orient":"left","values":[0,0.5,1],"labels":false,"tickSize":-17,"tickWidth":4,"title":null}}}},
 {"data":{"name":"flat"},"mark":{"type":"line","color":"#FFA500","clip":true},"encoding":{"x":{"field":"v","type":"quantitative","axis":{"orient":"bottom","values":[-120,-110,-90,-80,-70,-60,-50,-40,-30,-20,-10,10,20,30,40,50,60,70,80,90,110,120],"labels":false,"tickSize":-9,"tickWidth":2,"title":null}},"y":{"field":"f","type":"quantitative","axis":{"orient":"left","values":[-0.1,0.1,0.2,0.3,0.4,0.6,0.7,0.8,0.9,1.1],"labels":false,"tickSize":-9,"tickWidth":2,"title":null}}}},
 {"data":{"name":"flat"},"mark":{"type":"line","color":"#008000","clip":true},"encoding":{"x":{"field":"v","type":"quantitative","axis":null},"y":{"field":"f","type":"quantitative","axis":null}}},
 {"data":{"name":"flat"},"mark":{"type":"line","color":"#FF0000","clip":true},"encoding":{"x":{"field":"v","type":"quantitative","axis":null},"y":{"field":"f","type":"quantitative","axis":null}}},
 {"data":{"values":[{"v":0}]},"mark":{"type":"rule","color":"#FF0000","strokeWidth":3},"encoding":{"x":{"field":"v","type":"quantitative","axis":null},"y":{"datum":0.91,"type":"quantitative","axis":null},"y2":{"datum":1.14}}},
 {"data":{"values":[{"name":"MgII 2796"}]},"mark":{"type":"text","align":"left","baseline":"alphabetic","font":"DejaVu Serif","fontSize":36,"color":"#000080"},"encoding":{"x":{"datum":-117.8,"type":"quantitative","axis":null},"y":{"datum":-0.104,"type":"quantitative","axis":null},"text":{"field":"name"}}}
]},
{"width":581,"height":310,"view":{"stroke":null},"resolve":{"axis":{"x":"independent","y":"independent"}},"layer":[
 {"data":{"name":"SiIV1393_n"},"mark":{"type":"line","color":"#000080","clip":true},"encoding":{"x":{"field":"v","type":"quantitative","scale":{"domain":[-125,119.1],"nice":false},"axis":{"orient":"bottom","values":[-100,0,100],"labels":false,"domain":true,"tickSize":-17,"tickWidth":4,"title":null}},"y":{"field":"f","type":"quantitative","scale":{"domain":[-0.2,1.2],"nice":false,"zero":false},"axis":{"orient":"left","values":[0,0.5,1],"labels":false,"domain":true,"tickSize":-17,"tickWidth":4,"title":null}}}},
 {"data":{"name":"SiIV1393_o"},"mark":{"type":"line","color":"#FFA500","clip":true},"encoding":{"x":{"field":"v","type":"quantitative","axis":{"orient":"bottom","values":[-120,-110,-90,-80,-70,-60,-50,-40,-30,-20,-10,10,20,30,40,50,60,70,80,90,110],"labels":false,"tickSize":-9,"tickWidth":2,"title":null}},"y":{"field":"f","type":"quantitative","axis":{"orient":"left","values":[-0.1,0.1,0.2,0.3,0.4,0.6,0.7,0.8,0.9,1.1],"labels":false,"tickSize":-9,"tickWidth":2,"title":null}}}},
 {"data":{"name":"SiIV1393_g"},"mark":{"type":"line","color":"#008000","clip":true},"encoding":{"x":{"field":"v","type":"quantitative","axis":null},"y":{"field":"f","type":"quantitative","axis":null}}},
 {"data":{"name":"SiIV1393_r"},"mark":{"type":"line","color":"#FF0000","clip":true},"encoding":{"x":{"field":"v","type":"quantitative","axis":null},"y":{"field":"f","type":"quantitative","axis":null}}},
 {"data":{"values":[{"v":0}]},"mark":{"type":"rule","color":"#FF0000","strokeWidth":3},"encoding":{"x":{"field":"v","type":"quantitative","axis":null},"y":{"datum":0.91,"type":"quantitative","axis":null},"y2":{"datum":1.14}}},
 {"data":{"values":[{"name":"SiIV 1393"}]},"mark":{"type":"text","align":"left","baseline":"alphabetic","font":"DejaVu Serif","fontSize":36,"color":"#000080"},"encoding":{"x":{"datum":-117.8,"type":"quantitative","axis":null},"y":{"datum":-0.104,"type":"quantitative","axis":null},"text":{"field":"name"}}}
]},
{"width":595,"height":310,"resolve":{"axis":{"x":"independent","y":"independent"}},"layer":[
 {"data":{"name":"HI972_n"},"mark":{"type":"line","color":"#000080","clip":true},"encoding":{"x":{"field":"v","type":"quantitative","scale":{"domain":[-125,125],"nice":false},"axis":{"orient":"bottom","values":[-100,0,100],"labels":false,"tickSize":-17,"tickWidth":4,"title":null}},"y":{"field":"f","type":"quantitative","scale":{"domain":[-0.2,1.2],"nice":false,"zero":false},"axis":{"orient":"left","values":[0,0.5,1],"labels":false,"tickSize":-17,"tickWidth":4,"title":null}}}},
 {"data":{"name":"HI972_o"},"mark":{"type":"line","color":"#FFA500","clip":true},"encoding":{"x":{"field":"v","type":"quantitative","axis":{"orient":"bottom","values":[-120,-110,-90,-80,-70,-60,-50,-40,-30,-20,-10,10,20,30,40,50,60,70,80,90,110,120],"labels":false,"tickSize":-9,"tickWidth":2,"title":null}},"y":{"field":"f","type":"quantitative","axis":{"orient":"left","values":[-0.1,0.1,0.2,0.3,0.4,0.6,0.7,0.8,0.9,1.1],"labels":false,"tickSize":-9,"tickWidth":2,"title":null}}}},
 {"data":{"name":"HI972_g"},"mark":{"type":"line","color":"#008000","clip":true},"encoding":{"x":{"field":"v","type":"quantitative","axis":null},"y":{"field":"f","type":"quantitative","axis":{"orient":"left","values":[0,0.5,1],"format":".1f","ticks":false,"labelPadding":10,"title":null}}}},
 {"data":{"name":"HI972_r"},"mark":{"type":"line","color":"#FF0000","clip":true},"encoding":{"x":{"field":"v","type":"quantitative","axis":null},"y":{"field":"f","type":"quantitative","axis":null}}},
 {"data":{"values":[{"v":0}]},"mark":{"type":"rule","color":"#FF0000","strokeWidth":3},"encoding":{"x":{"field":"v","type":"quantitative","axis":null},"y":{"datum":0.91,"type":"quantitative","axis":null},"y2":{"datum":1.14}}},
 {"data":{"values":[{"name":"HI 972"}]},"mark":{"type":"text","align":"left","baseline":"alphabetic","font":"DejaVu Serif","fontSize":36,"color":"#000080"},"encoding":{"x":{"datum":-117.8,"type":"quantitative","axis":null},"y":{"datum":-0.104,"type":"quantitative","axis":null},"text":{"field":"name"}}}
]},
{"width":595,"height":310,"resolve":{"axis":{"x":"independent","y":"independent"}},"layer":[
 {"data":{"name":"flat"},"mark":{"type":"line","color":"#000080","clip":true},"encoding":{"x":{"field":"v","type":"quantitative","scale":{"domain":[-125,125],"nice":false},"axis":{"orient":"bottom","values":[-100,0,100],"labels":false,"tickSize":-17,"tickWidth":4,"title":null}},"y":{"field":"f","type":"quantitative","scale":{"domain":[-0.2,1.2],"nice":false,"zero":false},"axis":{"orient":"left","values":[0,0.5,1],"labels":false,"tickSize":-17,"tickWidth":4,"title":null}}}},
 {"data":{"name":"flat"},"mark":{"type":"line","color":"#FFA500","clip":true},"encoding":{"x":{"field":"v","type":"quantitative","axis":{"orient":"bottom","values":[-120,-110,-90,-80,-70,-60,-50,-40,-30,-20,-10,10,20,30,40,50,60,70,80,90,110,120],"labels":false,"tickSize":-9,"tickWidth":2,"title":null}},"y":{"field":"f","type":"quantitative","axis":{"orient":"left","values":[-0.1,0.1,0.2,0.3,0.4,0.6,0.7,0.8,0.9,1.1],"labels":false,"tickSize":-9,"tickWidth":2,"title":null}}}},
 {"data":{"name":"flat"},"mark":{"type":"line","color":"#008000","clip":true},"encoding":{"x":{"field":"v","type":"quantitative","axis":null},"y":{"field":"f","type":"quantitative","axis":null}}},
 {"data":{"name":"flat"},"mark":{"type":"line","color":"#FF0000","clip":true},"encoding":{"x":{"field":"v","type":"quantitative","axis":null},"y":{"field":"f","type":"quantitative","axis":null}}},
 {"data":{"values":[{"v":0}]},"mark":{"type":"rule","color":"#FF0000","strokeWidth":3},"encoding":{"x":{"field":"v","type":"quantitative","axis":null},"y":{"datum":0.91,"type":"quantitative","axis":null},"y2":{"datum":1.14}}},
 {"data":{"values":[{"name":"FeII 2382"}]},"mark":{"type":"text","align":"left","baseline":"alphabetic","font":"DejaVu Serif","fontSize":36,"color":"#000080"},"encoding":{"x":{"datum":-117.8,"type":"quantitative","axis":null},"y":{"datum":-0.104,"type":"quantitative","axis":null},"text":{"field":"name"}}}
]},
{"width":581,"height":310,"view":{"stroke":null},"resolve":{"axis":{"x":"independent","y":"independent"}},"layer":[
 {"data":{"name":"CIV1548_r"},"mark":{"type":"line","color":"#000080","clip":true},"encoding":{"x":{"field":"v","type":"quantitative","scale":{"domain":[-125,119.1],"nice":false},"axis":{"orient":"bottom","values":[-100,0,100],"labels":false,"domain":true,"tickSize":-17,"tickWidth":4,"title":null}},"y":{"field":"f","type":"quantitative","scale":{"domain":[-0.2,1.2],"nice":false,"zero":false},"axis":{"orient":"left","values":[0,0.5,1],"labels":false,"domain":true,"tickSize":-17,"tickWidth":4,"title":null}}}},
 {"data":{"name":"CIV1548_r"},"mark":{"type":"line","color":"#FFA500","clip":true},"encoding":{"x":{"field":"v","type":"quantitative","axis":{"orient":"bottom","values":[-120,-110,-90,-80,-70,-60,-50,-40,-30,-20,-10,10,20,30,40,50,60,70,80,90,110],"labels":false,"tickSize":-9,"tickWidth":2,"title":null}},"y":{"field":"f","type":"quantitative","axis":{"orient":"left","values":[-0.1,0.1,0.2,0.3,0.4,0.6,0.7,0.8,0.9,1.1],"labels":false,"tickSize":-9,"tickWidth":2,"title":null}}}},
 {"data":{"name":"CIV1548_g"},"mark":{"type":"line","color":"#008000","clip":true},"encoding":{"x":{"field":"v","type":"quantitative","axis":null},"y":{"field":"f","type":"quantitative","axis":null}}},
 {"data":{"name":"CIV1548_r"},"mark":{"type":"line","color":"#FF0000","clip":true},"encoding":{"x":{"field":"v","type":"quantitative","axis":null},"y":{"field":"f","type":"quantitative","axis":null}}},
 {"data":{"values":[{"v":0}]},"mark":{"type":"rule","color":"#FF0000","strokeWidth":3},"encoding":{"x":{"field":"v","type":"quantitative","axis":null},"y":{"datum":0.91,"type":"quantitative","axis":null},"y2":{"datum":1.14}}},
 {"data":{"values":[{"name":"CIV 1548"}]},"mark":{"type":"text","align":"left","baseline":"alphabetic","font":"DejaVu Serif","fontSize":36,"color":"#000080"},"encoding":{"x":{"datum":-117.8,"type":"quantitative","axis":null},"y":{"datum":-0.104,"type":"quantitative","axis":null},"text":{"field":"name"}}}
]},
{"width":595,"height":310,"resolve":{"axis":{"x":"independent","y":"independent"}},"layer":[
 {"data":{"name":"HI1025_n"},"mark":{"type":"line","color":"#000080","clip":true},"encoding":{"x":{"field":"v","type":"quantitative","scale":{"domain":[-125,125],"nice":false},"axis":{"orient":"bottom","values":[-100,0,100],"labels":false,"tickSize":-17,"tickWidth":4,"title":null}},"y":{"field":"f","type":"quantitative","scale":{"domain":[-0.2,1.2],"nice":false,"zero":false},"axis":{"orient":"left","values":[0,0.5,1],"labels":false,"tickSize":-17,"tickWidth":4,"title":null}}}},
 {"data":{"name":"HI1025_o"},"mark":{"type":"line","color":"#FFA500","clip":true},"encoding":{"x":{"field":"v","type":"quantitative","axis":{"orient":"bottom","values":[-120,-110,-90,-80,-70,-60,-50,-40,-30,-20,-10,10,20,30,40,50,60,70,80,90,110,120],"labels":false,"tickSize":-9,"tickWidth":2,"title":null}},"y":{"field":"f","type":"quantitative","axis":{"orient":"left","values":[-0.1,0.1,0.2,0.3,0.4,0.6,0.7,0.8,0.9,1.1],"labels":false,"tickSize":-9,"tickWidth":2,"title":null}}}},
 {"data":{"name":"HI1025_g"},"mark":{"type":"line","color":"#008000","clip":true},"encoding":{"x":{"field":"v","type":"quantitative","axis":{"orient":"bottom","values":[-100,0,100],"ticks":false,"labelPadding":8,"title":null}},"y":{"field":"f","type":"quantitative","axis":{"orient":"left","values":[0,0.5,1],"format":".1f","ticks":false,"labelPadding":10,"title":null}}}},
 {"data":{"name":"HI1025_r"},"mark":{"type":"line","color":"#FF0000","clip":true},"encoding":{"x":{"field":"v","type":"quantitative","axis":null},"y":{"field":"f","type":"quantitative","axis":null}}},
 {"data":{"values":[{"v":0}]},"mark":{"type":"rule","color":"#FF0000","strokeWidth":3},"encoding":{"x":{"field":"v","type":"quantitative","axis":null},"y":{"datum":0.91,"type":"quantitative","axis":null},"y2":{"datum":1.14}}},
 {"data":{"values":[{"name":"HI 1025"}]},"mark":{"type":"text","align":"left","baseline":"alphabetic","font":"DejaVu Serif","fontSize":36,"color":"#000080"},"encoding":{"x":{"datum":-117.8,"type":"quantitative","axis":null},"y":{"datum":-0.104,"type":"quantitative","axis":null},"text":{"field":"name"}}}
]},
{"width":595,"height":310,"resolve":{"axis":{"x":"independent","y":"independent"}},"layer":[
 {"data":{"name":"CII1334_n"},"mark":{"type":"line","color":"#000080","clip":true},"encoding":{"x":{"field":"v","type":"quantitative","scale":{"domain":[-125,125],"nice":false},"axis":{"orient":"bottom","values":[-100,0,100],"labels":false,"tickSize":-17,"tickWidth":4,"title":null}},"y":{"field":"f","type":"quantitative","scale":{"domain":[-0.2,1.2],"nice":false,"zero":false},"axis":{"orient":"left","values":[0,0.5,1],"labels":false,"tickSize":-17,"tickWidth":4,"title":null}}}},
 {"data":{"name":"CII1334_o"},"mark":{"type":"line","color":"#FFA500","clip":true},"encoding":{"x":{"field":"v","type":"quantitative","axis":{"orient":"bottom","values":[-120,-110,-90,-80,-70,-60,-50,-40,-30,-20,-10,10,20,30,40,50,60,70,80,90,110,120],"labels":false,"tickSize":-9,"tickWidth":2,"title":null}},"y":{"field":"f","type":"quantitative","axis":{"orient":"left","values":[-0.1,0.1,0.2,0.3,0.4,0.6,0.7,0.8,0.9,1.1],"labels":false,"tickSize":-9,"tickWidth":2,"title":null}}}},
 {"data":{"name":"CII1334_g"},"mark":{"type":"line","color":"#008000","clip":true},"encoding":{"x":{"field":"v","type":"quantitative","axis":{"orient":"bottom","values":[-100,0,100],"ticks":false,"labelPadding":8,"title":"Velocity [km s⁻¹]","titleX":262,"titleY":137,"titleAlign":"center","titleBaseline":"alphabetic","titleAngle":0}},"y":{"field":"f","type":"quantitative","axis":null}}},
 {"data":{"name":"CII1334_r"},"mark":{"type":"line","color":"#FF0000","clip":true},"encoding":{"x":{"field":"v","type":"quantitative","axis":null},"y":{"field":"f","type":"quantitative","axis":null}}},
 {"data":{"values":[{"v":0}]},"mark":{"type":"rule","color":"#FF0000","strokeWidth":3},"encoding":{"x":{"field":"v","type":"quantitative","axis":null},"y":{"datum":0.91,"type":"quantitative","axis":null},"y2":{"datum":1.14}}},
 {"data":{"values":[{"name":"CII 1334"}]},"mark":{"type":"text","align":"left","baseline":"alphabetic","font":"DejaVu Serif","fontSize":36,"color":"#000080"},"encoding":{"x":{"datum":-117.8,"type":"quantitative","axis":null},"y":{"datum":-0.104,"type":"quantitative","axis":null},"text":{"field":"name"}}}
]},
{"width":581,"height":310,"view":{"stroke":null},"resolve":{"axis":{"x":"independent","y":"independent"}},"layer":[
 {"data":{"name":"OVI1031_n"},"mark":{"type":"line","color":"#000080","clip":true},"encoding":{"x":{"field":"v","type":"quantitative","scale":{"domain":[-125,119.1],"nice":false},"axis":{"orient":"bottom","values":[-100,0,100],"labels":false,"domain":true,"tickSize":-17,"tickWidth":4,"title":null}},"y":{"field":"f","type":"quantitative","scale":{"domain":[-0.2,1.2],"nice":false,"zero":false},"axis":{"orient":"left","values":[0,0.5,1],"labels":false,"domain":true,"tickSize":-17,"tickWidth":4,"title":null}}}},
 {"data":{"name":"OVI1031_o"},"mark":{"type":"line","color":"#FFA500","clip":true},"encoding":{"x":{"field":"v","type":"quantitative","axis":{"orient":"bottom","values":[-120,-110,-90,-80,-70,-60,-50,-40,-30,-20,-10,10,20,30,40,50,60,70,80,90,110],"labels":false,"tickSize":-9,"tickWidth":2,"title":null}},"y":{"field":"f","type":"quantitative","axis":{"orient":"left","values":[-0.1,0.1,0.2,0.3,0.4,0.6,0.7,0.8,0.9,1.1],"labels":false,"tickSize":-9,"tickWidth":2,"title":null}}}},
 {"data":{"name":"OVI1031_g"},"mark":{"type":"line","color":"#008000","clip":true},"encoding":{"x":{"field":"v","type":"quantitative","axis":{"orient":"bottom","values":[-100,0,100],"ticks":false,"labelPadding":8,"title":null}},"y":{"field":"f","type":"quantitative","axis":null}}},
 {"data":{"name":"OVI1031_r"},"mark":{"type":"line","color":"#FF0000","clip":true},"encoding":{"x":{"field":"v","type":"quantitative","axis":null},"y":{"field":"f","type":"quantitative","axis":null}}},
 {"data":{"values":[{"v":0}]},"mark":{"type":"rule","color":"#FF0000","strokeWidth":3},"encoding":{"x":{"field":"v","type":"quantitative","axis":null},"y":{"datum":0.91,"type":"quantitative","axis":null},"y2":{"datum":1.14}}},
 {"data":{"values":[{"name":"OVI 1031"}]},"mark":{"type":"text","align":"left","baseline":"alphabetic","font":"DejaVu Serif","fontSize":36,"color":"#000080"},"encoding":{"x":{"datum":-117.8,"type":"quantitative","axis":null},"y":{"datum":-0.104,"type":"quantitative","axis":null},"text":{"field":"name"}}}
]}
]
}
